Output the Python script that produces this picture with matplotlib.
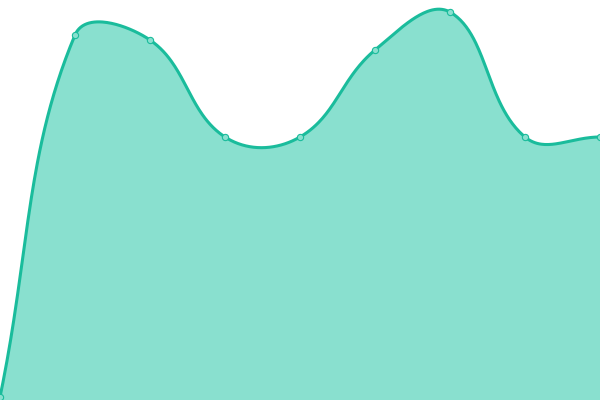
import numpy as np
import matplotlib
matplotlib.use("Agg")
import matplotlib.pyplot as plt

# values (chart spans 0..600 by 0..400)
x_vals = [0, 75, 150, 225, 300, 375, 450, 525, 600]
y_vals = [3, 365, 360, 263, 263, 350, 388, 263, 263]

line_color = "#1abc9c"
fill_color = "#89e0cf"
tension = 0.4


def spline_path(xs, ys, t=0.4, n=60):
    # bezier curve through the points, control points like a cardinal spline
    pts = np.column_stack([xs, ys]).astype(float)
    k = len(pts)
    c_prev = np.zeros_like(pts)
    c_next = np.zeros_like(pts)
    for i in range(k):
        p0 = pts[max(i - 1, 0)]
        p1 = pts[i]
        p2 = pts[min(i + 1, k - 1)]
        d01 = np.hypot(*(p1 - p0))
        d12 = np.hypot(*(p2 - p1))
        s01 = d01 / (d01 + d12) if d01 + d12 else 0
        s12 = d12 / (d01 + d12) if d01 + d12 else 0
        c_prev[i] = p1 - t * s01 * (p2 - p0)
        c_next[i] = p1 + t * s12 * (p2 - p0)
    c_prev[:, 1] = np.clip(c_prev[:, 1], 0, 400)
    c_next[:, 1] = np.clip(c_next[:, 1], 0, 400)
    out = []
    u = np.linspace(0, 1, n)[:, None]
    for i in range(k - 1):
        a, b, c, d = pts[i], c_next[i], c_prev[i + 1], pts[i + 1]
        seg = (1 - u) ** 3 * a + 3 * (1 - u) ** 2 * u * b + 3 * (1 - u) * u ** 2 * c + u ** 3 * d
        out.append(seg if i == 0 else seg[1:])
    return np.vstack(out)


curve = spline_path(x_vals, y_vals, tension)

fig = plt.figure(figsize=(6, 4), dpi=100)
ax = fig.add_axes([0, 0, 1, 1])
ax.fill_between(curve[:, 0], curve[:, 1], 0, color=fill_color, linewidth=0)
ax.plot(curve[:, 0], curve[:, 1], color=line_color, linewidth=2.2, solid_capstyle="round")
ax.plot(x_vals, y_vals, "o", markersize=4.5, markerfacecolor=fill_color,
        markeredgecolor=line_color, markeredgewidth=0.8, clip_on=True)
ax.set_xlim(0, 600)
ax.set_ylim(0, 400)
ax.axis("off")
fig.savefig("out.png", dpi=100)
plt.close(fig)
